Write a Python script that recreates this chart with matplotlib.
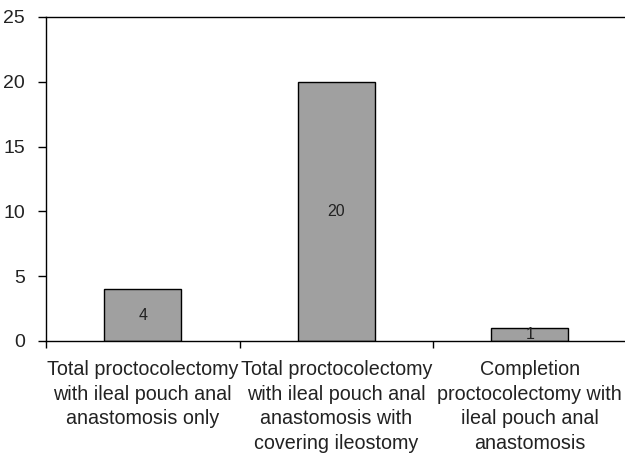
import numpy as np
import matplotlib
matplotlib.use('Agg')
import matplotlib.pyplot as plt

# %% data
categories = ['Total proctocolectomy\nwith ileal pouch anal\nanastomosis only',
              'Total proctocolectomy\nwith ileal pouch anal\nanastomosis with\ncovering ileostomy',
              'Completion\nproctocolectomy with\nileal pouch anal\nanastomosis']
counts = [4, 20, 1]
yticks = [0, 5, 10, 15, 20, 25]

# %% plot
plt.rcParams['font.family'] = ['Liberation Sans', 'DejaVu Sans']
fig = plt.figure(figsize=(6.25, 4.54), dpi=100)
ax = fig.add_axes([0.0736, 0.249, 0.9288, 0.7136])

x = np.arange(len(categories))
bars = ax.bar(x, counts, width=0.4, color='#a0a0a0', edgecolor='black', linewidth=1.0)
for b, v in zip(bars, counts):
    ax.text(b.get_x() + b.get_width() / 2, v / 2, str(v), ha='center', va='center',
            fontsize=11.5, color='#222222')

ax.set_xlim(-0.5, len(categories) - 0.5)
ax.set_ylim(0, 25)
ax.set_yticks(yticks)
ax.set_xticks(x)
ax.set_xticklabels(categories, fontsize=14.2, linespacing=1.36, color='#222222')
ax.set_xticks(np.arange(len(categories)) - 0.5, minor=True)
ax.tick_params(axis='x', which='major', length=0, pad=14)
ax.tick_params(axis='x', which='minor', length=5, width=1, direction='out')
ax.tick_params(axis='y', labelsize=14, length=6, width=1, pad=9, labelcolor='#222222')
for s in ['left', 'bottom', 'top']:
    ax.spines[s].set_linewidth(1.0)
ax.spines['right'].set_visible(False)

fig.savefig('out.png', dpi=100)
